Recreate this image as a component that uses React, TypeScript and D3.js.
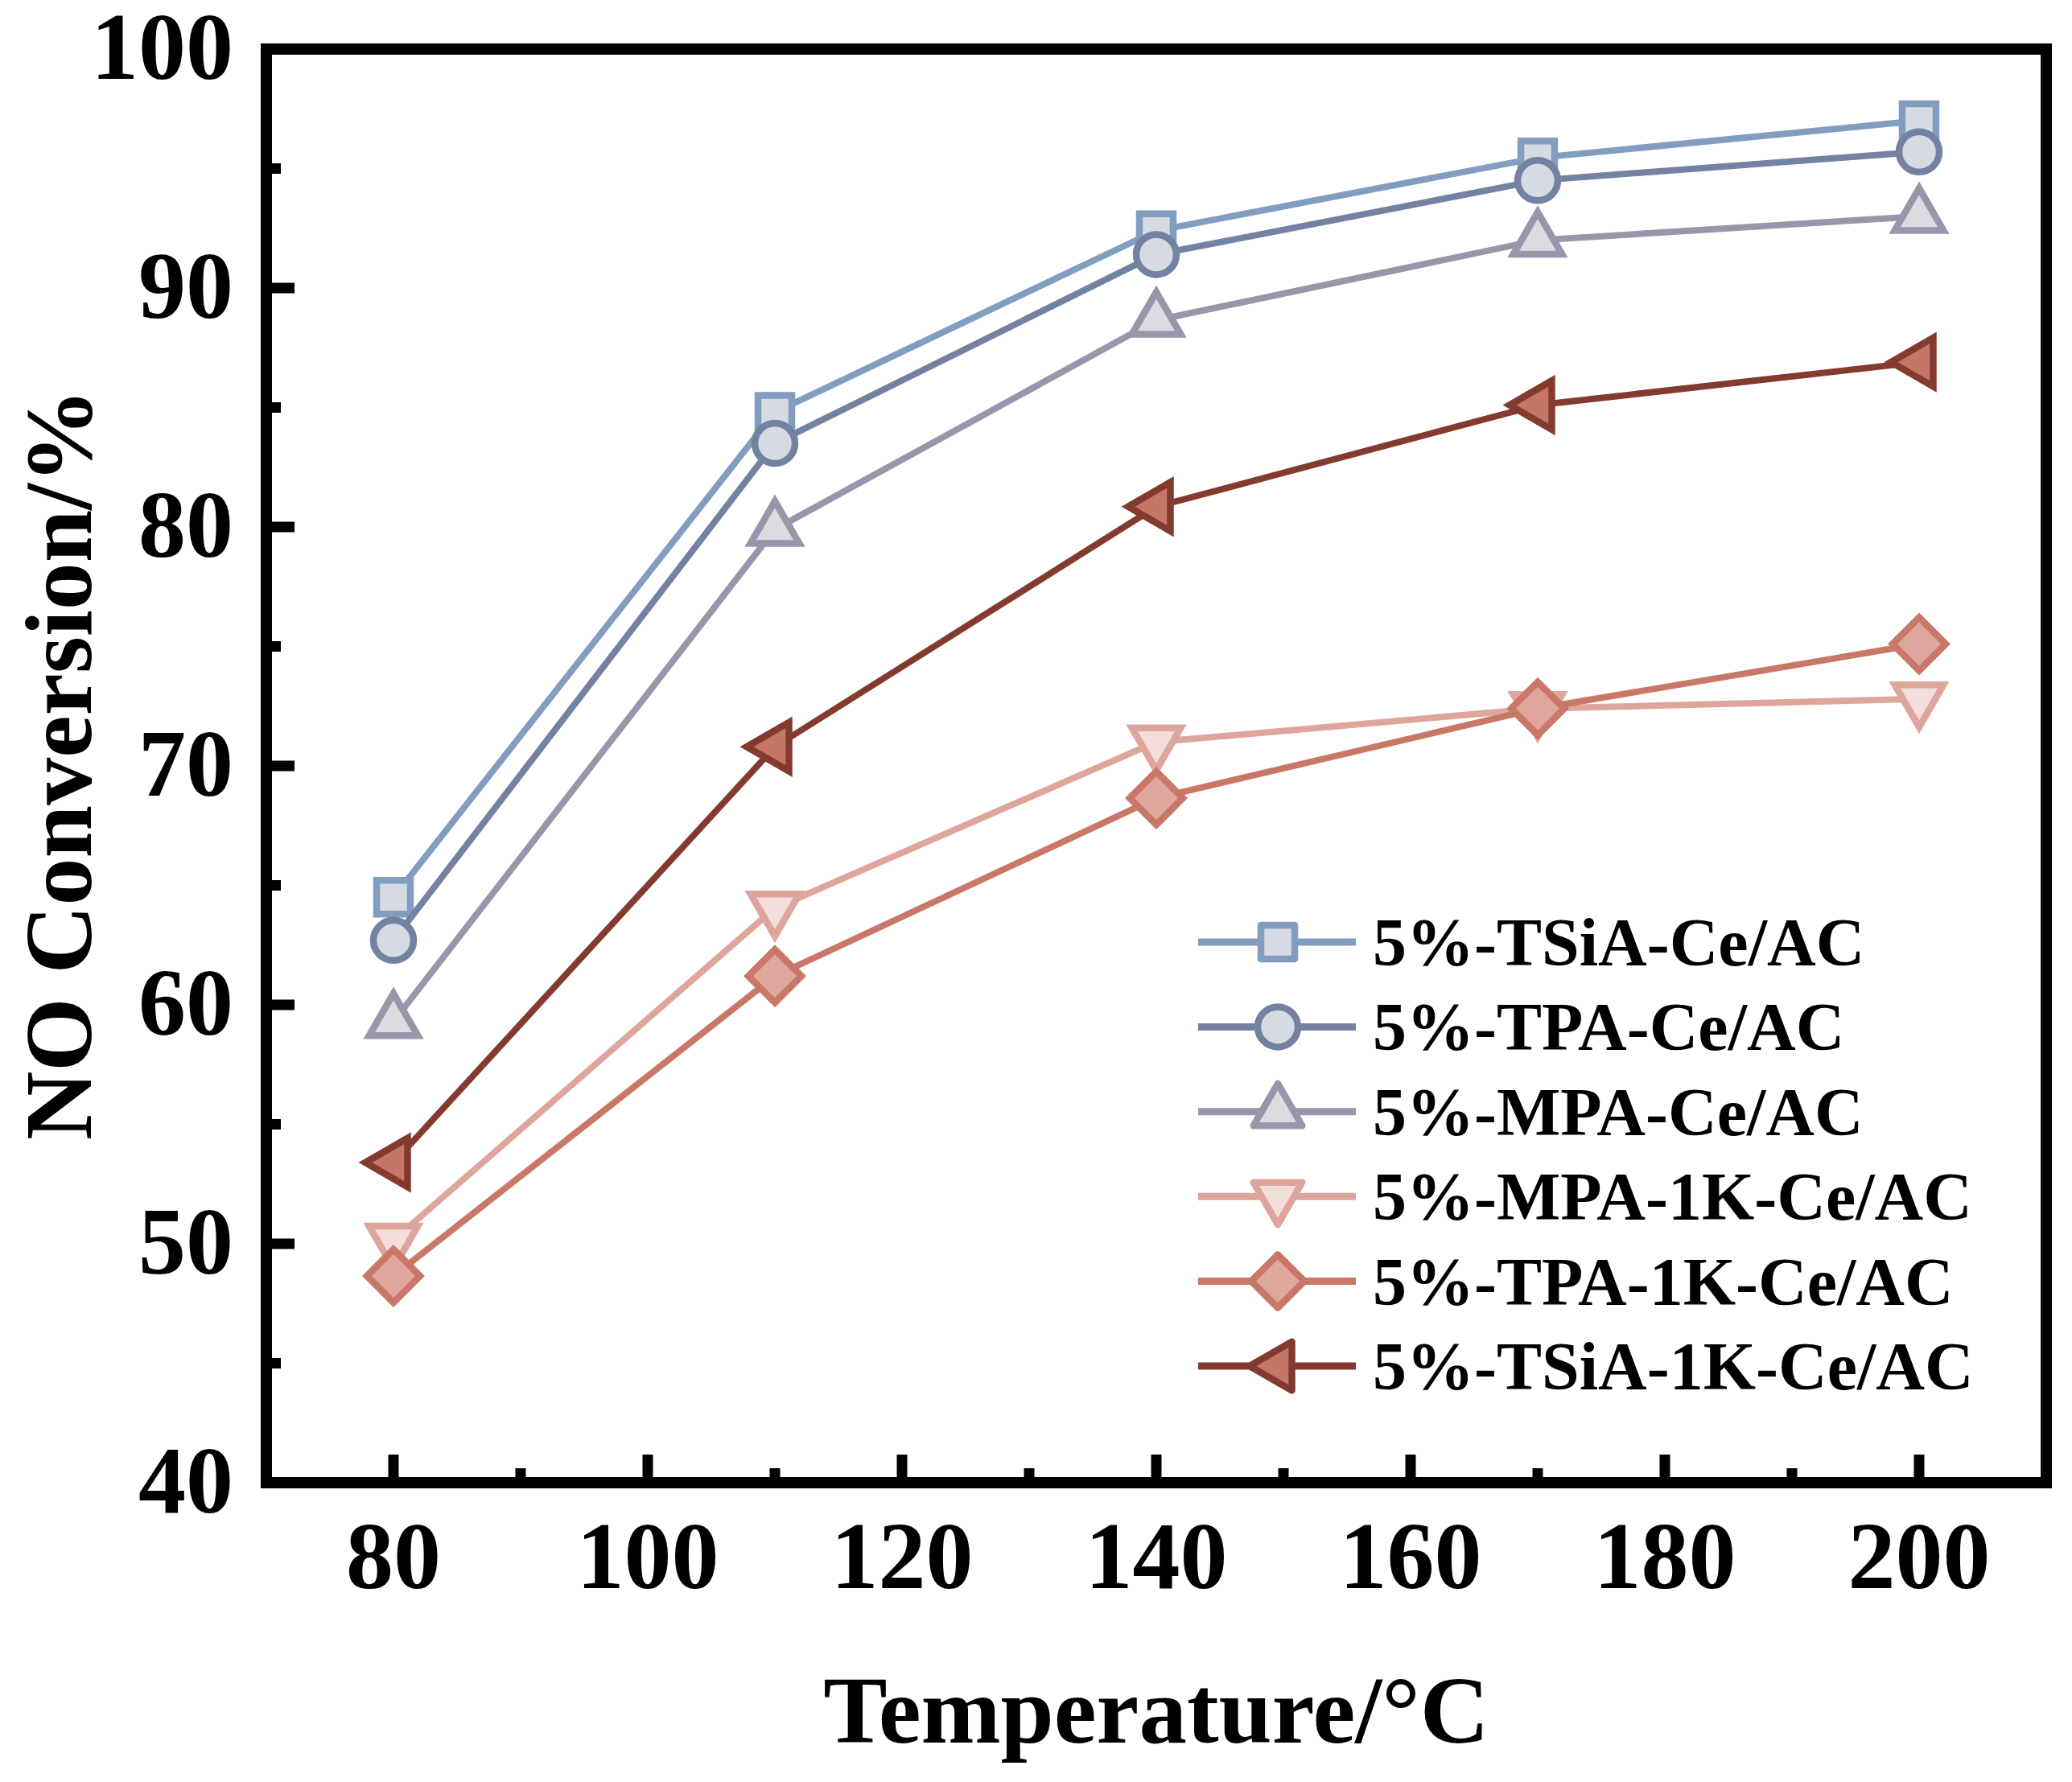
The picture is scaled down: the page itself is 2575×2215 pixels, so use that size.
import React from "react";
import * as d3 from "d3";

const temperatures = [80, 110, 140, 170, 200];

const seriesNames = [
  "5%-TSiA-Ce/AC",
  "5%-TPA-Ce/AC",
  "5%-MPA-Ce/AC",
  "5%-MPA-1K-Ce/AC",
  "5%-TPA-1K-Ce/AC",
  "5%-TSiA-1K-Ce/AC",
];

const tsiaCe = [64.5, 84.8, 92.4, 95.45, 97.0];
const tpaCe = [62.7, 83.5, 91.4, 94.5, 95.7];
const mpaCe = [59.3, 79.9, 88.65, 92.0, 93.0];
const mpa1kCe = [50.15, 64.05, 71.0, 72.4, 72.8];
const tpa1kCe = [48.65, 61.2, 68.65, 72.4, 75.1];
const tsia1kCe = [53.4, 70.8, 80.85, 85.1, 86.9];

const seriesValues = [tsiaCe, tpaCe, mpaCe, mpa1kCe, tpa1kCe, tsia1kCe];
const seriesShapes = ["square", "circle", "triangleUp", "triangleDown", "diamond", "triangleLeft"];
const lineColors = ["#829DC0", "#7382A1", "#9A95AA", "#DEA59C", "#C97868", "#843B2F"];
const fillColors = ["#D5DAE3", "#D5DAE3", "#DEDAE1", "#F3DEDB", "#DEA69C", "#C67667"];

const xTicks = [80, 100, 120, 140, 160, 180, 200];
const xMinorTicks = [90, 110, 130, 150, 170, 190];
const yTicks = [40, 50, 60, 70, 80, 90, 100];
const yMinorTicks = [45, 55, 65, 75, 85, 95];

const xTitle = "Temperature/\u00B0C";
const yTitle = "NO Conversion/%";

const W = 2575;
const H = 2215;
const L = 331, R = 2543, T = 61, B = 1843;
const FONT = "'Liberation Serif', 'Times New Roman', serif";

function markerPath(shape: string): string {
  const tr = 35;
  const s = 21;
  const d = 33;
  const h = tr * Math.sin(Math.PI / 3);
  switch (shape) {
    case "square":
      return `M${-s},${-s}H${s}V${s}H${-s}Z`;
    case "circle": {
      const r = 25;
      return `M${r},0A${r},${r} 0 1,1 ${-r},0A${r},${r} 0 1,1 ${r},0Z`;
    }
    case "triangleUp":
      return `M0,${-tr}L${h},${tr / 2}L${-h},${tr / 2}Z`;
    case "triangleDown":
      return `M0,${tr}L${h},${-tr / 2}L${-h},${-tr / 2}Z`;
    case "triangleLeft":
      return `M${-tr},0L${tr / 2},${-h}L${tr / 2},${h}Z`;
    case "diamond":
      return `M0,${-d}L${d},0L0,${d}L${-d},0Z`;
  }
  return "";
}

export default function App() {
  const x = d3.scaleLinear().domain([70, 210]).range([L, R]);
  const y = d3.scaleLinear().domain([40, 100]).range([B, T]);
  const line = d3
    .line<number>()
    .x((_, i) => x(temperatures[i]))
    .y((v) => y(v));

  const legendX0 = 1489, legendX1 = 1685, legendMX = 1588, legendTX = 1706;
  const legendY0 = 1171, legendDY = 105.4;

  return (
    <svg
      width={W}
      height={H}
      viewBox={`0 0 ${W} ${H}`}
      style={{ position: "absolute", left: 0, top: 0, display: "block", background: "#fff" }}
    >
      <rect x={0} y={0} width={W} height={H} fill="#fff" />
      {seriesValues.map((vals, si) => (
        <g key={si}>
          <path d={line(vals) || ""} fill="none" stroke={lineColors[si]} strokeWidth={8} />
          {vals.map((v, i) => (
            <path
              key={i}
              d={markerPath(seriesShapes[si])}
              transform={`translate(${x(temperatures[i])},${y(v)})`}
              fill={fillColors[si]}
              stroke={lineColors[si]}
              strokeWidth={8.5}
            />
          ))}
        </g>
      ))}
      {yTicks.map((t) => (
        <line key={"yt" + t} x1={L} x2={L + 35} y1={y(t)} y2={y(t)} stroke="#000" strokeWidth={13} />
      ))}
      {yMinorTicks.map((t) => (
        <line key={"ym" + t} x1={L} x2={L + 18} y1={y(t)} y2={y(t)} stroke="#000" strokeWidth={13} />
      ))}
      {xTicks.map((t) => (
        <line key={"xt" + t} x1={x(t)} x2={x(t)} y1={B} y2={B - 35} stroke="#000" strokeWidth={13} />
      ))}
      {xMinorTicks.map((t) => (
        <line key={"xm" + t} x1={x(t)} x2={x(t)} y1={B} y2={B - 18} stroke="#000" strokeWidth={13} />
      ))}
      <rect x={L} y={T} width={R - L} height={B - T} fill="none" stroke="#000" strokeWidth={14} />
      {yTicks.map((t) => (
        <text
          key={"yl" + t}
          x={290}
          y={y(t) + 37}
          textAnchor="end"
          fontFamily={FONT}
          fontWeight="bold"
          fontSize={118}
          fill="#000"
        >
          {t}
        </text>
      ))}
      {xTicks.map((t) => (
        <text
          key={"xl" + t}
          x={x(t)}
          y={B + 131}
          textAnchor="middle"
          fontFamily={FONT}
          fontWeight="bold"
          fontSize={118}
          fill="#000"
        >
          {t}
        </text>
      ))}
      <text
        x={(L + R) / 2}
        y={2166}
        textAnchor="middle"
        fontFamily={FONT}
        fontWeight="bold"
        fontSize={119}
        fill="#000"
      >
        {xTitle}
      </text>
      <text
        transform={`translate(113,950) rotate(-90)`}
        textAnchor="middle"
        fontFamily={FONT}
        fontWeight="bold"
        fontSize={118}
        fill="#000"
      >
        {yTitle}
      </text>
      {seriesNames.map((name, si) => {
        const ly = legendY0 + si * legendDY;
        return (
          <g key={"lg" + si}>
            <line x1={legendX0} x2={legendX1} y1={ly} y2={ly} stroke={lineColors[si]} strokeWidth={9} />
            <path
              d={markerPath(seriesShapes[si])}
              transform={`translate(${legendMX},${ly})`}
              fill={fillColors[si]}
              stroke={lineColors[si]}
              strokeWidth={8.5}
              strokeLinejoin="round"
            />
            <text
              x={legendTX}
              y={ly + 29}
              fontFamily={FONT}
              fontWeight="bold"
              fontSize={84}
              fill="#000"
            >
              {name}
            </text>
          </g>
        );
      })}
    </svg>
  );
}
